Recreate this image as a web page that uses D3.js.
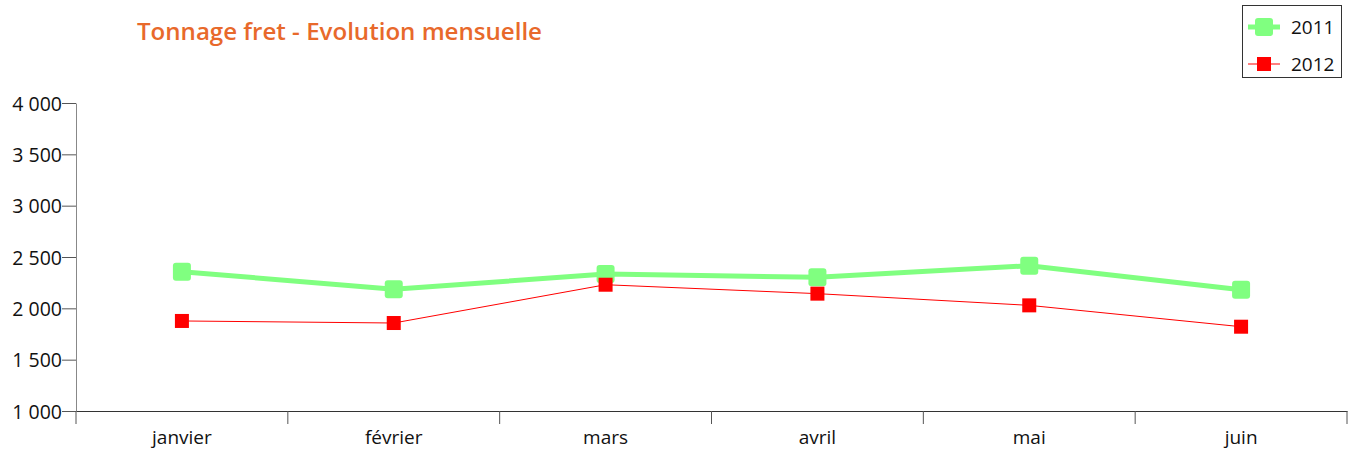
<!DOCTYPE html>
<html><head><meta charset="utf-8">
<script src="https://cdn.jsdelivr.net/npm/d3@7"></script>
<style>body{margin:0;background:#fff}svg{display:block}</style>
</head><body>
<svg id="c" width="1353" height="456"></svg>
<script>
const months = ["janvier","février","mars","avril","mai","juin"];
const values2011 = [2357, 2185, 2334, 2302, 2415, 2182];
const values2012 = [1877, 1857, 2230, 2143, 2029, 1821];
const yTicks = [1000, 1500, 2000, 2500, 3000, 3500, 4000];
const seriesNames = ["2011", "2012"];

(function(){
const svg = d3.select("#c");
const font = "'Open Sans', 'DejaVu Sans', sans-serif";
const mLeft = 76, mRight = 1347, mTop = 103, mBottom = 411;

const x = d3.scaleBand().domain(months).range([mLeft, mRight]);
const y = d3.scaleLinear().domain([1000, 4000]).range([mBottom, mTop]);
const fmt = v => d3.format(",")(v).replace(/,/g, " ");

// title
svg.append("text").attr("x", 137).attr("y", 40)
  .attr("font-family", font).attr("font-size", 24).attr("font-weight", 600).attr("fill", "#E8692B")
  .attr("textLength", 405).attr("lengthAdjust", "spacingAndGlyphs")
  .text("Tonnage fret - Evolution mensuelle");

// y axis
const ya = svg.append("g").attr("transform", `translate(${mLeft},0)`)
  .call(d3.axisLeft(y).tickValues(yTicks).tickFormat(fmt).tickSize(14).tickSizeOuter(0));
ya.select(".domain").attr("stroke", "#888");
ya.selectAll(".tick line").attr("stroke", "#555");
ya.selectAll("text").attr("font-family", font).attr("font-size", 19.5).attr("fill", "#111").attr("x", -14).attr("dy", "0.36em");

// x axis
const xa = svg.append("g").attr("transform", `translate(0,${mBottom})`)
  .call(d3.axisBottom(x).tickSize(0).tickSizeOuter(0));
xa.select(".domain").attr("stroke", "#333");
xa.selectAll(".tick text").attr("font-family", font).attr("font-size", 19).attr("fill", "#111").attr("y", 20).attr("dy", "0.71em");
const bounds = months.map(m => x(m)).concat([x(months[months.length-1]) + x.bandwidth()]);
xa.selectAll(".bt").data(bounds).enter().append("line")
  .attr("x1", d => d).attr("x2", d => d).attr("y1", 0).attr("y2", 13)
  .attr("stroke", "#555");

const cx = m => x(m) + x.bandwidth() / 2;
const line = d3.line().x((d, i) => cx(months[i])).y(d => y(d));

// 2011
svg.append("path").datum(values2011).attr("d", line)
  .attr("fill", "none").attr("stroke", "#80FF80").attr("stroke-width", 5).attr("stroke-linejoin", "round");
svg.selectAll(".m11").data(values2011).enter().append("rect")
  .attr("x", (d, i) => cx(months[i]) - 9).attr("y", d => y(d) - 9)
  .attr("width", 18).attr("height", 18).attr("rx", 3)
  .attr("fill", "#80FF80");

// 2012
svg.append("path").datum(values2012).attr("d", line)
  .attr("fill", "none").attr("stroke", "#FF0000").attr("stroke-width", 1);
svg.selectAll(".m12").data(values2012).enter().append("rect")
  .attr("x", (d, i) => cx(months[i]) - 7).attr("y", d => y(d) - 7)
  .attr("width", 14).attr("height", 14)
  .attr("fill", "#FF0000");

// legend
const lg = svg.append("g");
lg.append("rect").attr("x", 1242.5).attr("y", 5.5).attr("width", 99).attr("height", 72)
  .attr("fill", "#fff").attr("stroke", "#333");
const ly = [27, 64];
lg.append("line").attr("x1", 1248).attr("x2", 1280).attr("y1", ly[0]).attr("y2", ly[0])
  .attr("stroke", "#80FF80").attr("stroke-width", 5);
lg.append("rect").attr("x", 1255).attr("y", ly[0] - 9).attr("width", 18).attr("height", 18).attr("rx", 3).attr("fill", "#80FF80");
lg.append("line").attr("x1", 1248).attr("x2", 1280).attr("y1", ly[1]).attr("y2", ly[1])
  .attr("stroke", "#FF0000").attr("stroke-width", 1);
lg.append("rect").attr("x", 1257).attr("y", ly[1] - 7).attr("width", 14).attr("height", 14).attr("fill", "#FF0000");
lg.selectAll(".lt").data(seriesNames).enter().append("text")
  .attr("x", 1291).attr("y", (d, i) => ly[i]).attr("dy", "0.36em")
  .attr("font-family", font).attr("font-size", 19).attr("fill", "#111")
  .text(d => d);
})();
</script>
</body></html>
